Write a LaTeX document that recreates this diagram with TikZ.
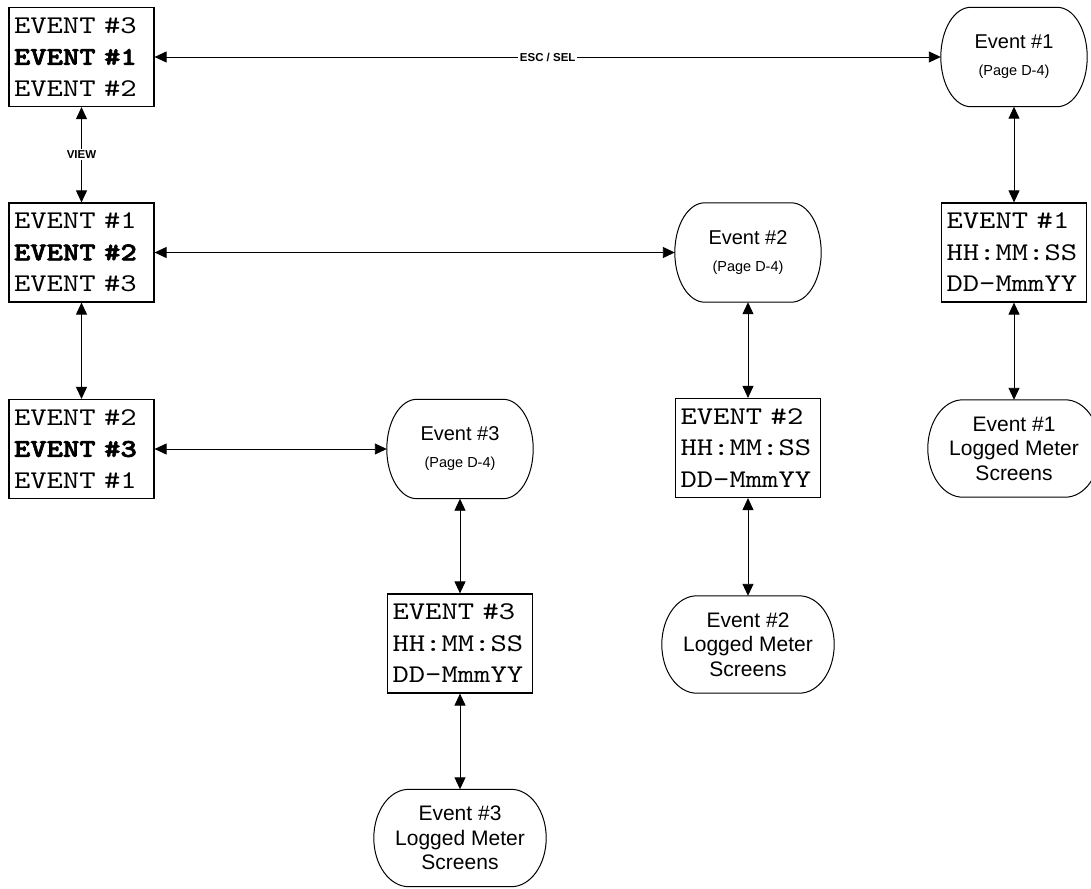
\documentclass[tikz,border=0pt]{standalone}
\usepackage{fontspec}
\usetikzlibrary{arrows.meta,calc}
\newfontfamily\lcd{lmmono10-regular.otf}[FakeStretch=1.22]
\newfontfamily\lcdb{lmmonolt10-bold.otf}[FakeStretch=1.22,FakeBold=2.5]
\newfontfamily\hv{Liberation Sans}
\tikzset{
  lcdbox/.style={draw, line width=1.2pt, minimum width=145pt, minimum height=99pt,
    text width=135pt, inner xsep=5pt, inner ysep=0pt, align=left,
    font=\lcd\fontsize{25.5}{31.5}\selectfont},
  oval/.style={minimum width=146pt, minimum height=99pt, inner sep=0pt, align=center,
    font=\hv\fontsize{20}{27}\selectfont},
  logged/.style={minimum width=172pt, minimum height=97pt, inner sep=0pt, align=center,
    font=\hv\fontsize{21}{24.5}\selectfont},
  link/.style={line width=0.9pt, {Triangle[length=12pt,width=11pt]}-{Triangle[length=12pt,width=11pt]}},
  lab/.style={fill=white, inner sep=1.5pt, font=\hv\bfseries\fontsize{11.5}{13}\selectfont},
  ovline/.style={line width=1pt}
}
\newcommand\ovaloutline[2]{%
  \draw[ovline] let \p1=(#1.north west), \p2=(#1.south east), \n1={(\y1-\y2)/2} in
    (\x1+#2,\y1) -- (\x2-#2,\y1)
    arc[start angle=90,end angle=-90,x radius=#2,y radius=\n1]
    -- (\x1+#2,\y2)
    arc[start angle=270,end angle=90,x radius=#2,y radius=\n1] -- cycle;}
\begin{document}
\begin{tikzpicture}[x=1pt,y=1pt]
\useasboundingbox (0,0) rectangle (1091,-888);
\fill[white] (0,0) rectangle (1091,-888);
\clip (0,0) rectangle (1091,-888);

% left column
\node[lcdbox] (b1) at (81.5,-57) {EVENT \#3\\{\lcdb EVENT \#1}\\EVENT \#2};
\node[lcdbox] (b2) at (81.5,-252.5) {EVENT \#1\\{\lcdb EVENT \#2}\\EVENT \#3};
\node[lcdbox] (b3) at (81.5,-449) {EVENT \#2\\{\lcdb EVENT \#3}\\EVENT \#1};

% event ovals
\node[oval] (e1) at (1014,-57) {Event \#1\\{\fontsize{14.5}{27}\selectfont (Page D-4)}};
\node[oval] (e2) at (748,-252.5) {Event \#2\\{\fontsize{14.5}{27}\selectfont (Page D-4)}};
\node[oval] (e3) at (460,-449) {Event \#3\\{\fontsize{14.5}{27}\selectfont (Page D-4)}};
\ovaloutline{e1}{30pt}
\ovaloutline{e2}{30pt}
\ovaloutline{e3}{30pt}

% detail boxes
\node[lcdbox] (d1) at (1014,-252.5) {EVENT \#1\\HH:MM:SS\\DD-MmmYY};
\node[lcdbox] (d2) at (748,-448) {EVENT \#2\\HH:MM:SS\\DD-MmmYY};
\node[lcdbox] (d3) at (460,-643.5) {EVENT \#3\\HH:MM:SS\\DD-MmmYY};

% logged meter ovals
\node[logged] (l1) at (1014,-448.5) {Event \#1\\Logged Meter\\Screens};
\node[logged] (l2) at (748,-644.5) {Event \#2\\Logged Meter\\Screens};
\node[logged] (l3) at (460,-838) {Event \#3\\Logged Meter\\Screens};
\ovaloutline{l1}{35pt}
\ovaloutline{l2}{35pt}
\ovaloutline{l3}{35pt}

% connectors
\draw[link] (b1) -- node[lab] {ESC / SEL} (e1);
\draw[link] (b1) -- node[lab] {VIEW} (b2);
\draw[link] (b2) -- (b3);
\draw[link] (b2) -- (e2);
\draw[link] (b3) -- (e3);
\draw[link] (e1) -- (d1);
\draw[link] (d1) -- (l1);
\draw[link] (e2) -- (d2);
\draw[link] (d2) -- (l2);
\draw[link] (e3) -- (d3);
\draw[link] (d3) -- (l3);
\end{tikzpicture}
\end{document}
